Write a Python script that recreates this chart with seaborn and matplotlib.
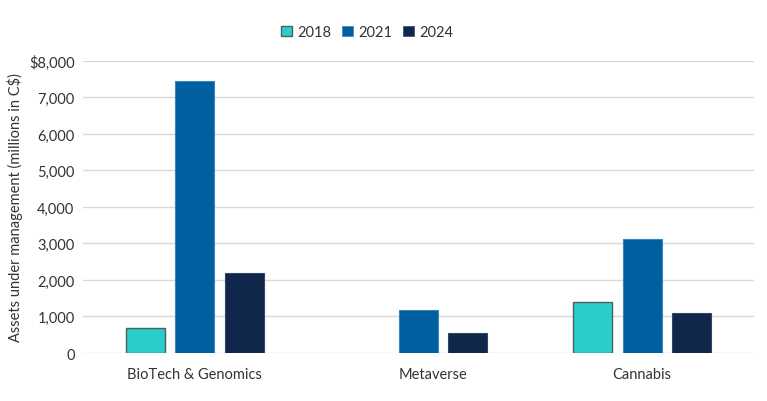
import matplotlib
matplotlib.use("Agg")
import matplotlib.pyplot as plt
import matplotlib.transforms as mtransforms
import seaborn as sns
import pandas as pd
import numpy as np
from matplotlib.patches import Patch

categories = ["BioTech & Genomics", "Metaverse", "Cannabis"]
years = ["2018", "2021", "2024"]
v2018 = [690, np.nan, 1400]
v2021 = [7450, 1180, 3130]
v2024 = [2200, 550, 1100]
tick_values = [0, 1000, 2000, 3000, 4000, 5000, 6000, 7000, 8000]
tick_labels = ["0", "1,000", "2,000", "3,000", "4,000", "5,000", "6,000", "7,000", "$8,000"]

colors = {"2018": "#2BCDCB", "2021": "#005F9E", "2024": "#10264A"}
edges = {"2018": "#4D5E60", "2021": "#3C85BA", "2024": "#32476B"}

rows = []
for y, vals in zip(years, [v2018, v2021, v2024]):
    for c, v in zip(categories, vals):
        rows.append({"category": c, "year": y, "value": v})
df = pd.DataFrame(rows)

sns.set_theme(style="white")
plt.rcParams["font.family"] = ["Lato", "DejaVu Sans"]
txt = "#333333"

fig = plt.figure(figsize=(7.67, 4.02), dpi=100)
ax = fig.add_axes([0.108, 0.1194, 0.875, 0.7264])

sns.barplot(data=df, x="category", y="value", hue="year", order=categories,
            hue_order=years, palette=colors, width=0.663, gap=0.21,
            ax=ax, legend=False, saturation=1)

for cont, y in zip(ax.containers, years):
    for bar in cont:
        bar.set_edgecolor(edges[y])
        bar.set_linewidth(1.0 if y == "2018" else 0.8)

ax.set_ylim(0, 8000)
ax.set_xlim(-0.5, 2.5)
ax.set_yticks(tick_values)
ax.set_yticklabels(tick_labels, fontsize=10.5, color=txt)
ax.tick_params(axis="x", labelsize=10.5, colors=txt, length=0, pad=10)
ax.tick_params(axis="y", length=0, pad=6)
ax.yaxis.grid(True, color="#D9D9D9", linewidth=1)
ax.set_axisbelow(True)
for s in ax.spines.values():
    s.set_visible(False)
ax.set_xlabel("")
ax.set_ylabel("Assets under management (millions in C$)", fontsize=10.5, color=txt, labelpad=4)

# Metaverse label sits slightly right of its bar pair in the reference
lbl = ax.get_xticklabels()[1]
lbl.set_transform(lbl.get_transform() + mtransforms.ScaledTranslation(15 / 100, 0, fig.dpi_scale_trans))

handles = [Patch(facecolor=colors[y], edgecolor=edges[y], linewidth=1.0 if y == "2018" else 0.5, label=y) for y in years]
fig.legend(handles=handles, loc="center", bbox_to_anchor=(367 / 767, 1 - 33 / 402), ncol=3,
           frameon=False, fontsize=10.5, handlelength=0.75, handleheight=0.75,
           handletextpad=0.35, columnspacing=0.75, labelcolor=txt)

fig.savefig("out.png", dpi=100)
